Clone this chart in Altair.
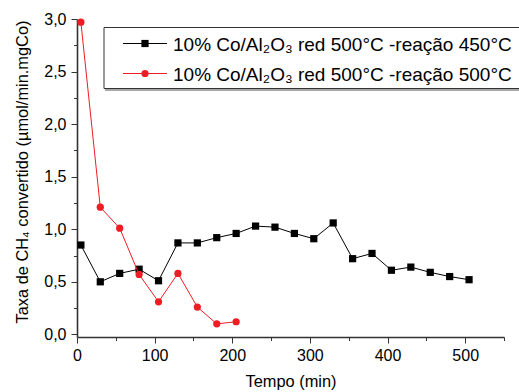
import altair as alt
import pandas as pd

# ---- data ----
tempo_450 = [5, 30, 55, 80, 105, 130, 155, 180, 205, 230, 255, 280, 305, 330, 355, 380, 405, 430, 455, 480, 505]
taxa_450 = [0.85, 0.50, 0.58, 0.62, 0.51, 0.87, 0.87, 0.92, 0.96, 1.03, 1.02, 0.96, 0.91, 1.06, 0.72, 0.77,
            0.61, 0.64, 0.59, 0.55, 0.52]
tempo_500 = [5, 30, 55, 80, 105, 130, 155, 180, 205]
taxa_500 = [2.97, 1.21, 1.01, 0.57, 0.31, 0.58, 0.26, 0.10, 0.12]

series_labels = ["10% Co/Al₂O₃ red 500°C -reação 450°C",
                 "10% Co/Al₂O₃ red 500°C -reação 500°C"]
series_colors = ["#000000", "#ee1d23"]
series_shapes = ["square", "circle"]

x_ticks = [0, 50, 100, 150, 200, 250, 300, 350, 400, 450, 500, 550]
y_ticks = [0.0, 0.25, 0.5, 0.75, 1.0, 1.25, 1.5, 1.75, 2.0, 2.25, 2.5, 2.75, 3.0]

x_title = "Tempo (min)"
y_title = "Taxa de CH₄ convertido (µmol/min.mgCo)"

FONT = "Liberation Sans"
W, H = 427, 318

df1 = pd.DataFrame({"tempo": tempo_450, "taxa": taxa_450})
df2 = pd.DataFrame({"tempo": tempo_500, "taxa": taxa_500})

xscale = alt.Scale(domain=[0, 550], nice=False, zero=False)
yscale = alt.Scale(domain=[-0.025, 3.0], nice=False, zero=False)

axis_common = dict(grid=False, domainColor="#333333", domainWidth=1.6, tickColor="#333333",
                   tickWidth=1, labelFont=FONT, labelFontSize=16, labelColor="#000000", title=None)

x_major_test = "datum.value % 100 === 0"
y_major_test = "abs(datum.value * 2 - round(datum.value * 2)) < 0.001"

x_axis = alt.Axis(values=x_ticks,
                  tickSize={"condition": {"test": x_major_test, "value": 6}, "value": 3.5},
                  labelExpr="datum.value % 100 === 0 ? format(datum.value, 'd') : ''",
                  labelPadding=4, labelFlush=False, labelOverlap=False,
                  orient="bottom", **axis_common)
y_axis = alt.Axis(values=y_ticks,
                  tickSize={"condition": {"test": y_major_test, "value": 6}, "value": 3.5},
                  labelExpr="abs(datum.value * 2 - round(datum.value * 2)) < 0.001 ? "
                            "replace(format(datum.value, '.1f'), '.', ',') : ''",
                  labelPadding=5, labelFlush=False, labelOverlap=False,
                  orient="left", **axis_common)


def series_layer(df, color, shape, xaxis, yaxis):
    return alt.Chart(df).mark_line(
        color=color, strokeWidth=1,
        point=alt.OverlayMarkDef(shape=shape, size=52, filled=True, color=color, opacity=1),
    ).encode(
        x=alt.X("tempo:Q", scale=xscale, axis=xaxis),
        y=alt.Y("taxa:Q", scale=yscale, axis=yaxis),
    )


layer_black = series_layer(df1, series_colors[0], series_shapes[0], x_axis, y_axis)
layer_red = series_layer(df2, series_colors[1], series_shapes[1], x_axis, y_axis)

one = pd.DataFrame({"k": [0]})

# ---- axis titles as plain text (normal weight) ----
title_layers = [
    alt.Chart(one).mark_text(text=x_title, font=FONT, fontSize=16.4, fontWeight="normal",
                             align="center", baseline="alphabetic", color="#000000").encode(
        x=alt.value(214), y=alt.value(368)),
    alt.Chart(one).mark_text(text=y_title, font=FONT, fontSize=16.4, fontWeight="normal", angle=270,
                             align="center", baseline="alphabetic", color="#000000").encode(
        x=alt.value(-49), y=alt.value(153)),
]

# ---- manual legend (decoration) ----
legend_layers = [
    alt.Chart(one).mark_rule(color="#8a8a8a", strokeWidth=1.5).encode(
        x=alt.value(28), x2=alt.value(460), y=alt.value(71)),
    alt.Chart(one).mark_rect(fill="white", stroke="#333333", strokeWidth=1).encode(
        x=alt.value(27), x2=alt.value(460), y=alt.value(8.5), y2=alt.value(69.5)),
]
row_y = [24.5, 54.5]
for i in range(2):
    legend_layers.append(alt.Chart(one).mark_rule(color=series_colors[i], strokeWidth=1).encode(
        x=alt.value(46), x2=alt.value(90), y=alt.value(row_y[i])))
    legend_layers.append(alt.Chart(one).mark_point(
        shape=series_shapes[i], size=52, filled=True, color=series_colors[i], opacity=1).encode(
        x=alt.value(68), y=alt.value(row_y[i])))
    legend_layers.append(alt.Chart(one).mark_text(
        text=series_labels[i], font=FONT, fontSize=19, align="left", baseline="middle",
        color="#000000").encode(x=alt.value(96), y=alt.value(row_y[i] + 1)))

chart = alt.layer(layer_black, layer_red, *title_layers, *legend_layers).properties(
    width=W, height=H,
    padding={"left": 77, "top": 19, "right": 15, "bottom": 55},
    autosize=alt.AutoSizeParams(type="none"),
    background="white",
).configure_view(stroke=None)

chart.save("out.html", embed_options={"renderer": "svg", "actions": False})
